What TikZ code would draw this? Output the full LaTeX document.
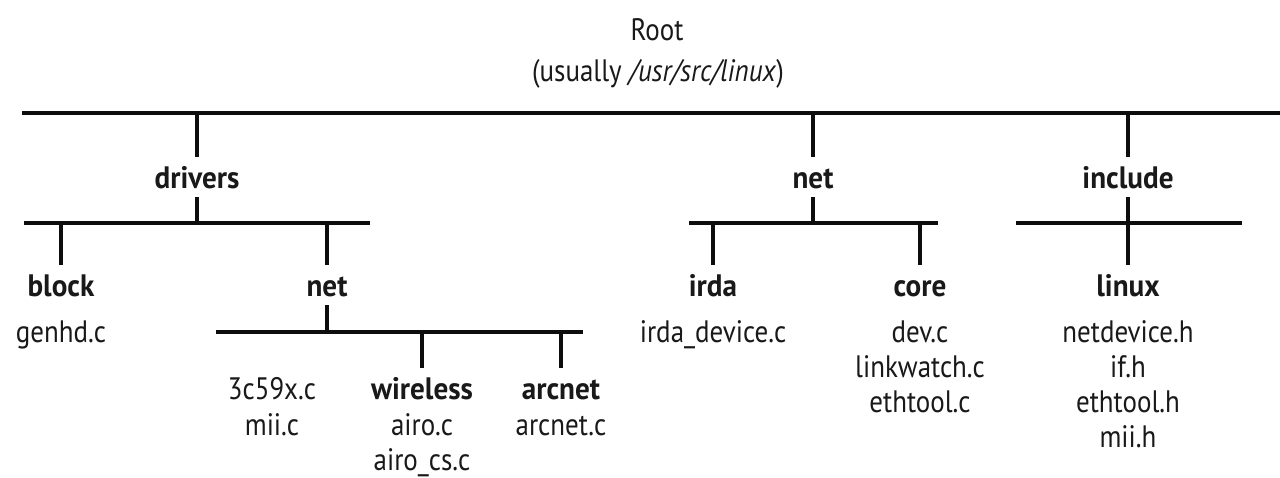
\documentclass[tikz,border=0pt]{standalone}
\usepackage{fontspec}
\setmainfont{PT Sans}[FakeStretch=0.87, BoldFeatures={FakeStretch=0.94}]
\begin{document}
\begin{tikzpicture}[x=1pt,y=-1pt,
  every node/.style={font=\fontsize{31}{36}\selectfont, inner xsep=0pt, text=black!90},
  bar/.style={line width=3.8pt, line cap=butt, draw=black!95},
  dirlabel/.style={font=\fontsize{31}{36}\selectfont\bfseries, anchor=base, text height=24pt, text depth=2pt, inner ysep=7pt},
  fileline/.style={anchor=base, inner ysep=0pt},
  ]
\useasboundingbox[fill=white] (0,0) rectangle (1280,477);

% root
\node[fileline] (root) at (657,40) {Root};
\node[fileline] (rootpath) at (658,81) {(usually \textit{/usr/src/linux})};

% top bar
\coordinate (tL) at (22,113);
\coordinate (tR) at (1280,113);
\coordinate (tDrv) at (197,113);
\coordinate (tNet) at (813,113);
\coordinate (tInc) at (1128,113);
\draw[bar] (tL) -- (tR);

% level 1
\node[dirlabel] (drivers) at (197,188) {drivers};
\node[dirlabel] (net) at (813,188) {net};
\node[dirlabel] (include) at (1128,188) {include};
\draw[bar] (tDrv) -- (drivers.north);
\draw[bar] (tNet) -- (net.north);
\draw[bar] (tInc) -- (include.north);

% drivers bar
\coordinate (dL) at (24,223);
\coordinate (dR) at (370,223);
\coordinate (dMid) at (197,223);
\coordinate (dBlk) at (61,223);
\coordinate (dNet) at (327,223);
\draw[bar] (dL) -- (dR);
\draw[bar] (drivers.south) -- (dMid);

% net bar
\coordinate (nL) at (689,223);
\coordinate (nR) at (938,223);
\coordinate (nMid) at (813,223);
\coordinate (nIrda) at (713,223);
\coordinate (nCore) at (920,223);
\draw[bar] (nL) -- (nR);
\draw[bar] (net.south) -- (nMid);

% include bar
\coordinate (iL) at (1016,223);
\coordinate (iR) at (1242,223);
\draw[bar] (iL) -- (iR);

% level 2
\node[dirlabel] (block) at (61,296) {block};
\node[dirlabel] (dnet) at (327,296) {net};
\node[dirlabel] (irda) at (713,296) {irda};
\node[dirlabel] (core) at (920,296) {core};
\node[dirlabel] (linux) at (1128,296) {linux};
\draw[bar] (dBlk) -- (block.north);
\draw[bar] (dNet) -- (dnet.north);
\draw[bar] (nIrda) -- (irda.north);
\draw[bar] (nCore) -- (core.north);
\draw[bar] (include.south) -- (linux.north);

% files level 2
\node[fileline] (genhd) at (61,342) {genhd.c};
\node[fileline] (irdadev) at (713,342) {irda\_device.c};
\node[fileline] (devc) at (920,342) {dev.c};
\node[fileline] (linkwatch) at (920,377) {linkwatch.c};
\node[fileline] (ethtoolc) at (920,412) {ethtool.c};
\node[fileline] (netdevice) at (1128,342) {netdevice.h};
\node[fileline] (ifh) at (1128,377) {if.h};
\node[fileline] (ethtoolh) at (1128,412) {ethtool.h};
\node[fileline] (miih) at (1128,447) {mii.h};

% drivers/net bar
\coordinate (dnL) at (216,332);
\coordinate (dnR) at (583,332);
\coordinate (dnMid) at (327,332);
\coordinate (dnWl) at (422,332);
\coordinate (dnArc) at (561,332);
\draw[bar] (dnL) -- (dnR);
\draw[bar] (dnet.south) -- (dnMid);

% level 3
\node[dirlabel] (wireless) at (422,399) {wireless};
\node[dirlabel] (arcnet) at (561,399) {arcnet};
\draw[bar] (dnWl) -- (wireless.north);
\draw[bar] (dnArc) -- (arcnet.north);

\node[fileline] (c3c59x) at (272,399) {3c59x.c};
\node[fileline] (miic) at (272,435) {mii.c};
\node[fileline] (airoc) at (422,435) {airo.c};
\node[fileline] (airocs) at (422,470) {airo\_cs.c};
\node[fileline] (arcnetc) at (561,435) {arcnet.c};
\end{tikzpicture}
\end{document}
